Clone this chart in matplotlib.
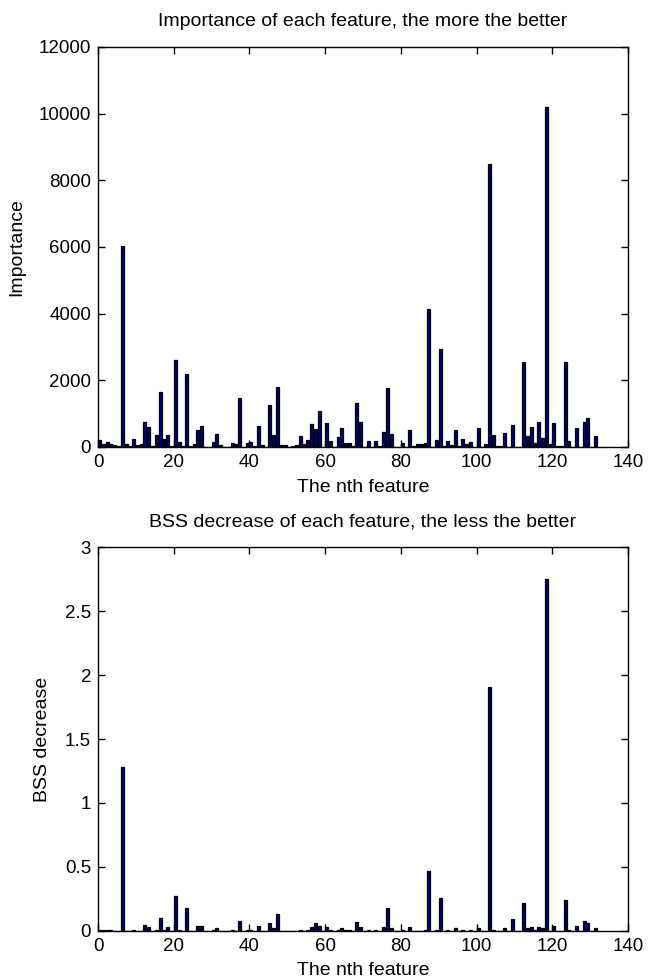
import numpy as np
import matplotlib
matplotlib.use("Agg")
import matplotlib.pyplot as plt
from matplotlib.ticker import FuncFormatter

plt.rcParams['font.family'] = ['Liberation Sans', 'DejaVu Sans']
plt.rcParams['font.size'] = 13.5

# importance of each feature (index 0..131)
importance = [
    200, 100, 150, 100, 60, 20, 6020, 90, 20, 230,
    70, 90, 750, 610, 40, 350, 1650, 230, 350, 40,
    2600, 140, 20, 2200, 40, 90, 520, 640, 10, 0,
    150, 400, 60, 10, 0, 120, 80, 1470, 10, 110,
    140, 20, 640, 60, 0, 1250, 360, 1800, 60, 60,
    0, 20, 50, 330, 80, 200, 690, 540, 1090, 0,
    720, 170, 0, 300, 570, 110, 110, 30, 1330, 750,
    10, 170, 0, 170, 20, 450, 1780, 390, 0, 0,
    110, 10, 510, 20, 80, 80, 110, 4130, 0, 200,
    2930, 30, 170, 60, 520, 30, 230, 80, 140, 0,
    580, 0, 80, 8500, 350, 20, 30, 430, 0, 670,
    0, 0, 2540, 330, 610, 110, 760, 260, 10200, 90,
    730, 30, 30, 2550, 170, 0, 580, 0, 760, 880,
    10, 330,
]

# BSS decrease of each feature
bss_decrease = [
    0.01, 0.01, 0.01, 0.01, 0.0, 0.0, 1.28, 0.0, 0.0, 0.005,
    0.0, 0.0, 0.05, 0.03, 0.0, 0.01, 0.10, 0.01, 0.03, 0.0,
    0.27, 0.01, 0.0, 0.18, 0.0, 0.0, 0.04, 0.04, 0.0, 0.0,
    0.005, 0.02, 0.0, 0.0, 0.0, 0.005, 0.0, 0.08, 0.0, 0.005,
    0.01, 0.0, 0.04, 0.0, 0.0, 0.06, 0.02, 0.13, 0.0, 0.0,
    0.0, 0.0, 0.0, 0.01, 0.0, 0.005, 0.03, 0.06, 0.04, 0.0,
    0.03, 0.005, 0.0, 0.01, 0.02, 0.01, 0.005, 0.0, 0.07, 0.03,
    0.0, 0.005, 0.0, 0.005, 0.0, 0.03, 0.18, 0.02, 0.0, 0.0,
    0.005, 0.0, 0.03, 0.0, 0.0, 0.0, 0.005, 0.47, 0.0, 0.01,
    0.26, 0.0, 0.005, 0.0, 0.02, 0.0, 0.01, 0.0, 0.01, 0.0,
    0.02, 0.0, 0.0, 1.91, 0.01, 0.0, 0.0, 0.02, 0.0, 0.09,
    0.0, 0.0, 0.22, 0.02, 0.03, 0.005, 0.03, 0.02, 2.75, 0.0,
    0.04, 0.0, 0.0, 0.24, 0.01, 0.0, 0.04, 0.0, 0.08, 0.06,
    0.0, 0.02,
]

features = np.arange(len(importance))

fig = plt.figure(figsize=(6.5, 9.77), dpi=100, facecolor='white')
ax1 = fig.add_axes([0.1508, 0.5425, 0.8154, 0.4094])
ax2 = fig.add_axes([0.1508, 0.0471, 0.8154, 0.3930])


def style_axes(ax):
    ax.tick_params(direction='in', top=True, right=True, length=5, width=1,
                   labelsize=13.5, pad=5)
    for sp in ax.spines.values():
        sp.set_linewidth(1)
        sp.set_color('black')
    ax.set_xlim(0, 140)
    ax.set_xticks(range(0, 141, 20))


ax1.bar(features, importance, width=0.8, align='edge',
        color='#000080', edgecolor='black', linewidth=0.9)
style_axes(ax1)
ax1.set_ylim(0, 12000)
ax1.set_yticks(range(0, 12001, 2000))
ax1.set_title("Importance of each feature, the more the better", fontsize=14, pad=15)
ax1.set_xlabel("The nth feature", fontsize=14, labelpad=6)
ax1.set_ylabel("Importance", fontsize=14, labelpad=10)

ax2.bar(features, bss_decrease, width=0.8, align='edge',
        color='#000080', edgecolor='black', linewidth=0.9)
style_axes(ax2)
ax2.set_ylim(0, 3)
ax2.set_yticks(np.arange(0, 3.01, 0.5))
ax2.yaxis.set_major_formatter(FuncFormatter(lambda v, p: '%g' % v))
ax2.set_title("BSS decrease of each feature, the less the better", fontsize=14, pad=15)
ax2.set_xlabel("The nth feature", fontsize=14, labelpad=5)
ax2.set_ylabel("BSS decrease", fontsize=14, labelpad=10)

fig.savefig("out.png", dpi=100, facecolor='white')
